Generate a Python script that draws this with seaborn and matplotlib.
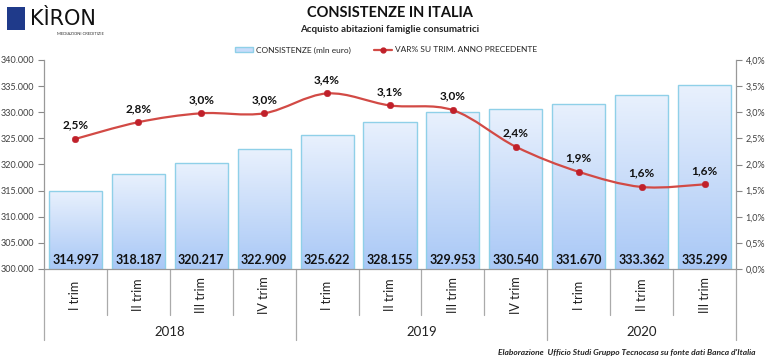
import numpy as np
import pandas as pd
import matplotlib
matplotlib.use("Agg")
import matplotlib.pyplot as plt
import seaborn as sns
from matplotlib.path import Path
from matplotlib.patches import PathPatch, Rectangle, Patch
from matplotlib.lines import Line2D
import matplotlib.transforms as mtransforms

# ---- data ----
quarters = ["I trim", "II trim", "III trim", "IV trim",
            "I trim", "II trim", "III trim", "IV trim",
            "I trim", "II trim", "III trim"]
years = ["2018", "2019", "2020"]
year_counts = [4, 4, 3]
consistenze = [314997, 318187, 320217, 322909, 325622, 328155,
               329953, 330540, 331670, 333362, 335299]
var_pct = [2.49, 2.81, 2.98, 2.98, 3.36, 3.13, 3.04, 2.34, 1.86, 1.57, 1.62]
var_labels = ["2,5%", "2,8%", "3,0%", "3,0%", "3,4%", "3,1%", "3,0%",
              "2,4%", "1,9%", "1,6%", "1,6%"]

sns.set_theme(style="white")
plt.rcParams["font.family"] = ["Lato", "DejaVu Sans"]

W, H = 768, 361
fig = plt.figure(figsize=(W / 100, H / 100), dpi=100)
ax = fig.add_axes([44 / W, 1 - 269 / H, (736 - 44) / W, (269 - 60) / H])

df = pd.DataFrame({"idx": range(len(consistenze)), "val": consistenze})
sns.barplot(data=df, x="idx", y="val", ax=ax, width=0.845,
            color="#c8dcfa", edgecolor="#8fd0e8", linewidth=1.0,
            native_scale=False)
ax.set_ylim(300000, 340000)
ax.set_xlim(-0.5, len(consistenze) - 0.5)

# gradient fill inside bars
grad = np.linspace(0, 1, 256).reshape(-1, 1)
cmap = matplotlib.colors.LinearSegmentedColormap.from_list(
    "g", ["#a9c8f6", "#e9f1fd"])
for p in ax.patches:
    x0, y0 = p.get_x(), p.get_y()
    w, h = p.get_width(), p.get_height()
    im = ax.imshow(grad, extent=[x0, x0 + w, 300000, y0 + h], origin="lower",
                   cmap=cmap, aspect="auto", zorder=p.get_zorder() - 0.1)
    im.set_clip_path(p)
    p.set_facecolor("none")
ax.set_xlim(-0.5, len(consistenze) - 0.5)
ax.set_ylim(300000, 340000)

for i, v in enumerate(consistenze):
    ax.text(i, 301700, f"{v:,}".replace(",", "."), ha="center", va="center",
            fontsize=9, fontweight="bold", color="#111111", zorder=5)

# left axis styling
ax.set_yticks(np.arange(300000, 340001, 5000))
ax.set_yticklabels([f"{int(t):,}".replace(",", ".") for t in np.arange(300000, 340001, 5000)],
                   fontsize=6.5, color="#404040")
ax.tick_params(axis="y", which="both", left=True, length=4, width=0.8,
               color="#888888", pad=3)
ax.set_xticks([])
ax.set_xlabel("")
ax.set_ylabel("")
for s in ["top", "right"]:
    ax.spines[s].set_visible(False)
ax.spines["left"].set_color("#999999")
ax.spines["bottom"].set_color("#999999")
ax.spines["left"].set_linewidth(0.9)
ax.spines["bottom"].set_linewidth(0.9)
ax.grid(False)

# right axis
ax2 = ax.twinx()
ax2.set_ylim(0, 4)
ax2.set_xlim(-0.5, len(consistenze) - 0.5)
ax2.set_yticks(np.arange(0, 4.01, 0.5))
ax2.set_yticklabels([f"{t:.1f}%".replace(".", ",") for t in np.arange(0, 4.01, 0.5)],
                    fontsize=6.5, color="#404040")
ax2.tick_params(axis="y", right=True, length=4, width=0.8, color="#888888", pad=3)
for s in ["top", "left", "bottom"]:
    ax2.spines[s].set_visible(False)
ax2.spines["right"].set_color("#999999")
ax2.spines["right"].set_linewidth(0.9)
ax2.grid(False)

# smooth line (Catmull-Rom as Bezier)
xs = np.arange(len(var_pct), dtype=float)
ys = np.array(var_pct, dtype=float)
verts = [(xs[0], ys[0])]
codes = [Path.MOVETO]
n = len(xs)
for i in range(n - 1):
    p0 = np.array([xs[max(i - 1, 0)], ys[max(i - 1, 0)]])
    p1 = np.array([xs[i], ys[i]])
    p2 = np.array([xs[i + 1], ys[i + 1]])
    p3 = np.array([xs[min(i + 2, n - 1)], ys[min(i + 2, n - 1)]])
    c1 = p1 + (p2 - p0) / 6.0
    c2 = p2 - (p3 - p1) / 6.0
    verts += [tuple(c1), tuple(c2), tuple(p2)]
    codes += [Path.CURVE4] * 3
ax2.add_patch(PathPatch(Path(verts, codes), facecolor="none",
                        edgecolor="#d24a45", linewidth=1.6, zorder=3))
sns.scatterplot(x=xs, y=ys, ax=ax2, color="#c0202a", s=22,
                edgecolor="#c0202a", zorder=4, legend=False)
for x, y, lab in zip(xs, ys, var_labels):
    ax2.annotate(lab, (x, y), xytext=(0, 6), textcoords="offset points",
                 ha="center", va="bottom", fontsize=8.5, fontweight="bold",
                 color="#111111")

# category axis
trans = mtransforms.blended_transform_factory(ax.transData, ax.transAxes)
for i, q in enumerate(quarters):
    ax.text(i, -0.125, q, rotation=90, ha="center", va="center",
            fontsize=9, color="#222222", transform=trans, clip_on=False)
year_bounds = np.concatenate([[0], np.cumsum(year_counts)]) - 0.5
for i in range(len(quarters) + 1):
    xb = i - 0.5
    long_ = np.any(np.isclose(year_bounds, xb))
    ax.plot([xb, xb], [0, -0.34 if long_ else -0.22], color="#aaaaaa",
            lw=0.9, transform=trans, clip_on=False)
for k, yname in enumerate(years):
    center = (year_bounds[k] + year_bounds[k + 1]) / 2
    ax.text(center, -0.30, yname, ha="center", va="center", fontsize=9.5,
            color="#222222", transform=trans, clip_on=False)

# titles
fig.text(390 / W, 1 - 13 / H, "CONSISTENZE IN ITALIA", ha="center", va="center",
         fontsize=10.5, fontweight="bold", color="#111111")
fig.text(390 / W, 1 - 30 / H, "Acquisto abitazioni famiglie consumatrici",
         ha="center", va="center", fontsize=7, fontweight="bold", color="#222222")

# legend
handles = [Patch(facecolor="#c8dcfa", edgecolor="#8fd0e8"),
           Line2D([0], [0], color="#d24a45", lw=1.6, marker="o",
                  markersize=3.5, markerfacecolor="#c0202a", markeredgecolor="#c0202a")]
fig.legend(handles, ["CONSISTENZE (mln euro)", "VAR% SU TRIM. ANNO PRECEDENTE"],
           loc="center", bbox_to_anchor=(386 / W, 1 - 50 / H), ncol=2,
           frameon=False, fontsize=6, columnspacing=2.8, handlelength=2.2,
           handleheight=0.6, handletextpad=0.3)

# logo
fig.patches.append(Rectangle((7 / W, 1 - 30 / H), 18 / W, 23 / H,
                             transform=fig.transFigure, facecolor="#1f3a8a",
                             edgecolor="none"))
fig.text(30 / W, 1 - 19 / H, "KÌRON", ha="left", va="center", fontsize=15,
         color="#111111", family="DejaVu Sans")
fig.text(80 / W, 1 - 34 / H, "MEDIAZIONI CREDITIZIE", ha="center", va="center",
         fontsize=3, color="#333333")

# footer
fig.text(756 / W, 1 - 352 / H,
         "Elaborazione  Ufficio Studi Gruppo Tecnocasa su fonte dati Banca d'Italia",
         ha="right", va="center", fontsize=6, fontstyle="italic",
         fontweight="bold", color="#222222")

fig.savefig("out.png", dpi=100)
